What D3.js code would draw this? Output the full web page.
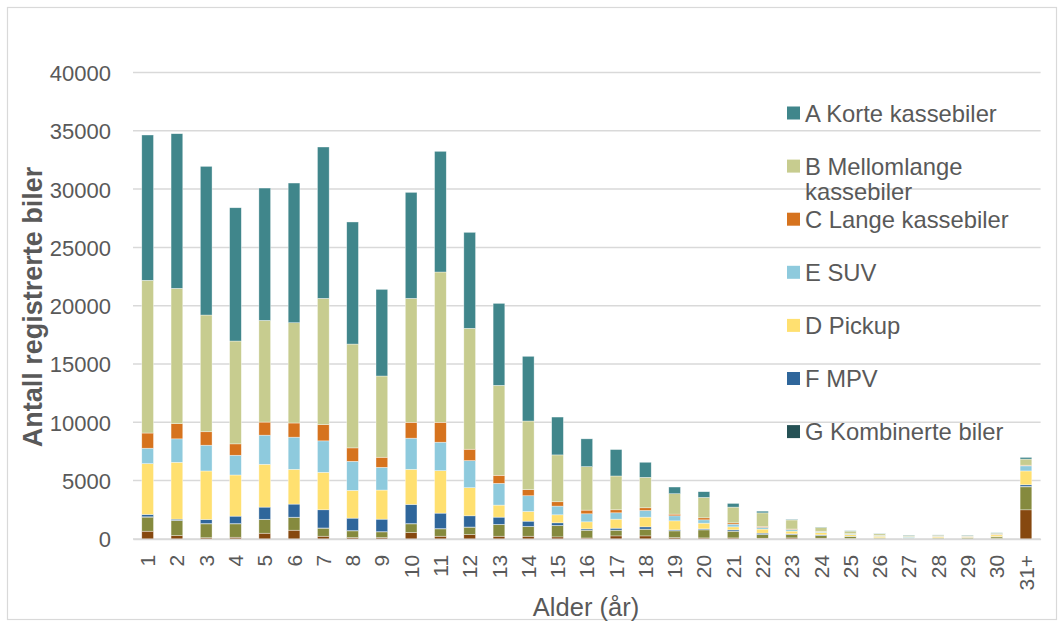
<!DOCTYPE html>
<html>
<head>
<meta charset="utf-8">
<script src="https://cdn.jsdelivr.net/npm/d3@7"></script>
<style>
  html, body { margin: 0; padding: 0; background: #ffffff; }
  svg { display: block; font-family: "Liberation Sans", Arial, sans-serif; }
</style>
</head>
<body>
<svg id="chart" width="1058" height="625"></svg>
<script>
// Age groups (years since first registration)
const categories = ["1","2","3","4","5","6","7","8","9","10","11","12","13","14","15",
  "16","17","18","19","20","21","22","23","24","25","26","27","28","29","30","31+"];

// Registered vehicles per body class, stacked bottom to top
const valuesH = [660,287,100,143,488,746,230,115,115,545,230,373,230,230,172,
  80,258,258,115,86,86,58,87,58,29,20,20,20,20,30,2494];
const valuesI = [1206,1291,1190,1147,1177,1091,688,574,488,745,631,632,1004,832,976,
  666,488,574,574,689,574,319,290,232,174,67,40,67,96,144,1972];
const valuesG = [30,20,25,20,20,25,20,20,15,20,20,15,15,10,10,
  10,10,10,8,8,8,6,5,5,4,4,3,3,3,4,40];
const valuesF = [199,95,350,642,1042,1123,1559,1071,1075,1646,1329,960,617,449,220,
  105,162,191,78,78,107,110,53,53,25,9,17,10,11,22,134];
const valuesD = [4362,4879,4161,3530,3673,2985,3214,2382,2497,3014,3645,2411,1033,832,688,
  603,775,833,775,488,258,348,232,203,145,132,40,103,73,148,1189];
const valuesE = [1321,2009,2210,1693,2497,2755,2698,2496,1952,2669,2439,2325,1865,1349,747,
  689,546,574,430,287,230,145,145,87,58,58,83,27,27,52,435];
const valuesC = [1302,1299,1154,976,1123,1215,1391,1148,861,1361,1706,976,689,517,373,
  315,258,229,144,172,115,87,38,22,15,10,7,10,10,20,58];
const valuesB = [13100,11610,10010,8819,8720,8600,10830,8904,6967,10630,12890,10370,7717,5891,4018,
  3731,2899,2612,1751,1751,1349,1160,774,326,217,135,80,79,50,73,522];
const valuesA = [12460,13260,12750,11430,11350,11980,12980,10470,7430,9090,10350,8230,7030,5550,3246,
  2382,2267,1291,574,488,315,145,56,29,29,29,30,21,30,29,145];

const yTicks = [0,5000,10000,15000,20000,25000,30000,35000,40000];

// Stack order (bottom first) with fill colours
const series = [
  { key: "H", values: valuesH, color: "#86480f" },
  { key: "I", values: valuesI, color: "#858a3e" },
  { key: "G", label: "G Kombinerte biler",      values: valuesG, color: "#255155" },
  { key: "F", label: "F MPV",                   values: valuesF, color: "#2f669b" },
  { key: "D", label: "D Pickup",                values: valuesD, color: "#ffe070" },
  { key: "E", label: "E SUV",                   values: valuesE, color: "#8ecadd" },
  { key: "C", label: "C Lange kassebiler",      values: valuesC, color: "#d6731e" },
  { key: "B", label: ["B Mellomlange", "kassebiler"], values: valuesB, color: "#c7cc8f" },
  { key: "A", label: "A Korte kassebiler",      values: valuesA, color: "#40868b" }
];

// Legend lists the named classes from the top of the stack down
const legendKeys = ["A","B","C","E","D","F","G"];

const rows = categories.map((c, i) => {
  const r = { cat: c };
  series.forEach(s => { r[s.key] = s.values[i]; });
  return r;
});

const svg = d3.select("#chart");
const textColor = "#595959";
const gridColor = "#d9d9d9";

// Chart frame
svg.append("rect")
  .attr("x", 7.5).attr("y", 7.5)
  .attr("width", 1049).attr("height", 612)
  .attr("fill", "#ffffff")
  .attr("stroke", gridColor).attr("stroke-width", 1.2);

const x = d3.scaleBand()
  .domain(categories)
  .range([133, 1040.6])
  .paddingInner(0.6)
  .paddingOuter(0.3);

const y = d3.scaleLinear()
  .domain([0, 40000])
  .range([538.9, 72.5]);

// Horizontal gridlines
svg.append("g")
  .selectAll("line")
  .data(yTicks)
  .join("line")
  .attr("x1", 133).attr("x2", 1040.6)
  .attr("y1", d => y(d)).attr("y2", d => y(d))
  .attr("stroke", gridColor).attr("stroke-width", 1.5);

// Y axis tick labels
const yAxis = d3.axisLeft(y).tickValues(yTicks).tickSize(0).tickPadding(0).tickFormat(d3.format("d"));
const gy = svg.append("g").attr("transform", "translate(111,0)").call(yAxis);
gy.select(".domain").remove();
gy.selectAll("text")
  .attr("fill", textColor)
  .style("font-size", "22px")
  .style("font-family", "'Liberation Sans', Arial, sans-serif")
  .attr("dy", "0.36em");

// Stacked bars
const stack = d3.stack().keys(series.map(s => s.key));
const layers = stack(rows);

svg.append("g")
  .selectAll("g")
  .data(layers)
  .join("g")
  .attr("fill", (d, i) => series[i].color)
  .selectAll("rect")
  .data(d => d)
  .join("rect")
  .attr("x", d => x(d.data.cat))
  .attr("width", x.bandwidth())
  .attr("y", d => y(d[1]))
  .attr("height", d => Math.max(0, y(d[0]) - y(d[1])))
  .attr("stroke", "#ffffff")
  .attr("stroke-width", 0.6)
  .attr("stroke-opacity", 0.6);

// X axis baseline and rotated category labels
const xAxis = d3.axisBottom(x).tickSize(0).tickPadding(0);
const gx = svg.append("g").attr("transform", `translate(0,${y(0)})`).call(xAxis);
gx.select(".domain").attr("stroke", gridColor).attr("stroke-width", 1.5);
gx.selectAll("text")
  .attr("fill", textColor)
  .style("font-size", "21px")
  .style("font-family", "'Liberation Sans', Arial, sans-serif")
  .attr("text-anchor", "end")
  .attr("transform", "translate(0,16) rotate(-90)")
  .attr("x", 0).attr("y", 0)
  .attr("dy", "0.36em");

// Axis titles
svg.append("text")
  .attr("transform", "translate(42,307) rotate(-90)")
  .attr("text-anchor", "middle")
  .attr("fill", textColor)
  .style("font-size", "27px")
  .style("font-weight", "bold")
  .text("Antall registrerte biler");

svg.append("text")
  .attr("x", 586).attr("y", 616)
  .attr("text-anchor", "middle")
  .attr("fill", textColor)
  .style("font-size", "25.5px")
  .text("Alder (år)");

// Legend
const legendItems = legendKeys.map(k => series.find(s => s.key === k));
const lg = svg.append("g")
  .selectAll("g")
  .data(legendItems)
  .join("g")
  .attr("transform", (d, i) => `translate(787,${113 + i * 53.1})`);

lg.append("rect")
  .attr("x", 0).attr("y", -6.5)
  .attr("width", 13).attr("height", 13)
  .attr("fill", d => d.color);

lg.append("text")
  .attr("x", 18).attr("y", 0)
  .attr("fill", textColor)
  .style("font-size", "23.8px")
  .each(function(d) {
    const lines = Array.isArray(d.label) ? d.label : [d.label];
    d3.select(this).selectAll("tspan")
      .data(lines)
      .join("tspan")
      .attr("x", 18)
      .attr("dy", (l, j) => j === 0 ? "0.36em" : "1.08em")
      .text(l => l);
  });
</script>
</body>
</html>
